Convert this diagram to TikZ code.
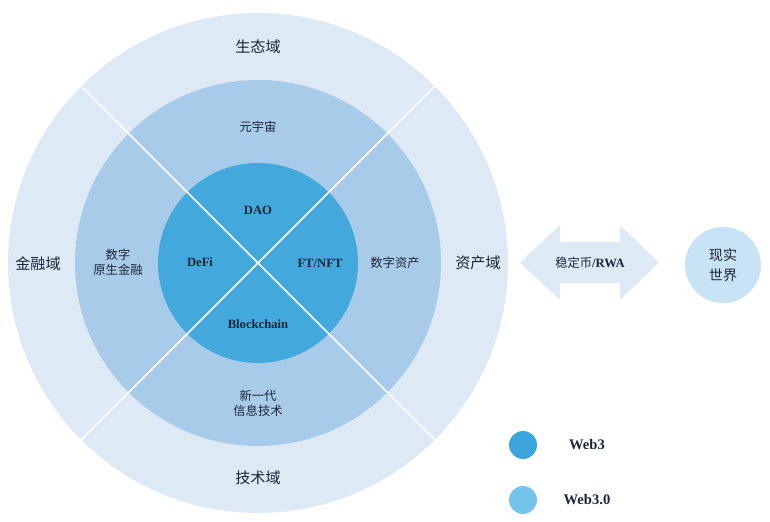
\documentclass[tikz,border=0pt]{standalone}
\usepackage{fontspec}
\setmainfont{Liberation Serif}
\newfontfamily\cjk{Noto Sans CJK SC}
\usepackage{tikz}
\usepackage{xcolor}
\usetikzlibrary{calc}
\usetikzlibrary{positioning}

\definecolor{ringout}{HTML}{DDEAF6}
\definecolor{ringmid}{HTML}{A9CBEA}
\definecolor{ringin}{HTML}{43A9DD}
\definecolor{webthree}{HTML}{3BA4DB}
\definecolor{webthreeo}{HTML}{74C3EA}
\definecolor{realworld}{HTML}{C8E3F4}
\definecolor{inktext}{HTML}{1C2636}

\begin{document}
\begin{tikzpicture}[
	zonelabel/.style={font=\cjk\fontsize{8.6}{10}\selectfont, text=inktext},
	fieldlabel/.style={font=\cjk\fontsize{7}{8.5}\selectfont, text=inktext, align=center},
	corelabel/.style={font=\bfseries\fontsize{7.2}{8.5}\selectfont, text=inktext},
	legendtext/.style={font=\bfseries\fontsize{8.3}{10}\selectfont, text=inktext}
]
\useasboundingbox (0,0) rectangle (15.4,10.44);
\coordinate (c) at (5.16,5.18);
\fill[ringout] (c) circle(5);
\fill[ringmid] (c) circle(3.66);
\fill[ringin] (c) circle(2);
\foreach \a in {45,135,225,315}
{
	\draw[white,line width=1pt] (c) -- +(\a:5);
}
% outer ring
\node[zonelabel] (eco) at (5.16,9.5) {生态域};
\node[zonelabel] (fin) at (0.76,5.16) {金融域};
\node[zonelabel] (asset) at (9.56,5.18) {资产域};
\node[zonelabel] (tech) at (5.16,0.88) {技术域};
% middle ring
\node[fieldlabel] (meta) at (5.16,7.9) {元宇宙};
\node[fieldlabel] (dnf) at (2.36,5.2) {数字\\原生金融};
\node[fieldlabel] (dasset) at (7.9,5.18) {数字资产};
\node[fieldlabel] (nextit) at (5.16,2.38) {新一代\\信息技术};
% inner circle
\node[corelabel] (dao) at (5.16,6.24) {DAO};
\node[corelabel] (defi) at (4.0,5.2) {DeFi};
\node[corelabel] (nft) at (6.4,5.18) {FT/NFT};
\node[corelabel] (chain) at (5.16,3.96) {Blockchain};
% bridge to the real world
\fill[ringout] (10.4,5.19) -- (11.2,5.94) -- (11.2,5.6) -- (12.4,5.6) -- (12.4,5.94)
	-- (13.18,5.19) -- (12.4,4.44) -- (12.4,4.78) -- (11.2,4.78) -- (11.2,4.44) -- cycle;
\node[corelabel] (rwa) at (11.8,5.18) {{\cjk\mdseries\fontsize{7}{8.5}\selectfont 稳定币}/RWA};
\fill[realworld] (14.46,5.14) circle(0.76);
\node[fieldlabel, font=\cjk\fontsize{8}{11}\selectfont] (real) at (14.46,5.14) {现实\\世界};
% legend
\fill[webthree] (10.46,1.54) circle(0.28);
\node[legendtext] (lweb3) at (11.74,1.54) {Web3};
\fill[webthreeo] (10.46,0.44) circle(0.28);
\node[legendtext] (lweb30) at (11.74,0.44) {Web3.0};
\end{tikzpicture}
\end{document}
